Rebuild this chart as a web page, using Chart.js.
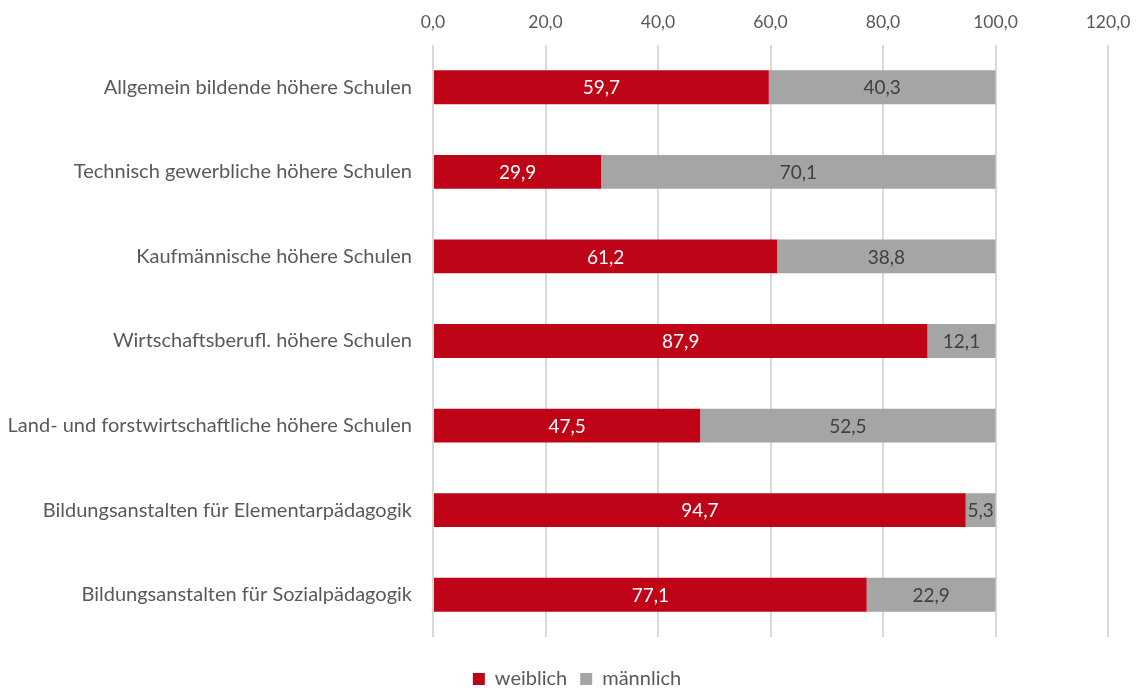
<!DOCTYPE html>
<html>
<head>
<meta charset="utf-8">
<script src="https://cdn.jsdelivr.net/npm/chart.js@4/dist/chart.umd.min.js"></script>
<style>
  html, body { margin: 0; padding: 0; background: #fff; overflow: hidden; }
  #wrap { width: 1137px; height: 688px; }
</style>
</head>
<body>
<div id="wrap"><canvas id="chart"></canvas></div>
<script>
// Schultypen (Kategorien)
const schultypen = [
  'Allgemein bildende höhere Schulen',
  'Technisch gewerbliche höhere Schulen',
  'Kaufmännische höhere Schulen',
  'Wirtschaftsberufl. höhere Schulen',
  'Land- und forstwirtschaftliche höhere Schulen',
  'Bildungsanstalten für Elementarpädagogik',
  'Bildungsanstalten für Sozialpädagogik'
];
// Anteile in %
const weiblich = [59.7, 29.9, 61.2, 87.9, 47.5, 94.7, 77.1];
const maennlich = [40.3, 70.1, 38.8, 12.1, 52.5, 5.3, 22.9];

const ROT = '#C00418';
const GRAU = '#A5A5A5';
const TEXT = '#595959';
const SCHRIFT = 'Lato, "Liberation Sans", sans-serif';

const zahl = v => v.toFixed(1).replace('.', ',');

// eigene Beschriftung der Balkensegmente (kein datalabels-Plugin verfügbar)
const balkenWerte = {
  id: 'balkenWerte',
  afterDatasetsDraw(chart) {
    const ctx = chart.ctx;
    ctx.save();
    ctx.font = '19px ' + SCHRIFT;
    ctx.textAlign = 'center';
    ctx.textBaseline = 'middle';
    chart.data.datasets.forEach((ds, i) => {
      const meta = chart.getDatasetMeta(i);
      ctx.fillStyle = i === 0 ? '#FFFFFF' : '#404040';
      meta.data.forEach((bar, j) => {
        const mitte = (bar.x + bar.base) / 2;
        ctx.fillText(zahl(ds.data[j]), mitte, bar.y + 1);
      });
    });
    ctx.restore();
  }
};

// Legende etwas nach rechts schieben wie im Original
const legendeVersatz = {
  id: 'legendeVersatz',
  afterLayout(chart) {
    chart.legend.left += 23;
    chart.legend.right += 23;
  }
};

new Chart(document.getElementById('chart'), {
  type: 'bar',
  data: {
    labels: schultypen,
    datasets: [
      { label: 'weiblich', data: weiblich, backgroundColor: ROT },
      { label: 'männlich', data: maennlich, backgroundColor: GRAU }
    ]
  },
  options: {
    indexAxis: 'y',
    responsive: true,
    maintainAspectRatio: false,
    animation: false,
    layout: { padding: { top: 0, right: 29, bottom: -11, left: 0 } },
    datasets: {
      bar: { categoryPercentage: 1, barPercentage: 0.4 }
    },
    scales: {
      x: {
        position: 'top',
        stacked: true,
        min: 0,
        max: 120,
        ticks: {
          stepSize: 20,
          color: TEXT,
          font: { family: SCHRIFT, size: 17.5 },
          padding: 12,
          callback: v => zahl(v)
        },
        grid: { color: '#D9D9D9', lineWidth: 2, drawTicks: false },
        border: { display: false },
        afterFit(scale) {
          scale.height = 45;
          scale.paddingLeft = 0;
          scale.paddingRight = 0;
        }
      },
      y: {
        stacked: true,
        ticks: {
          color: TEXT,
          font: { family: SCHRIFT, size: 20 },
          padding: 21
        },
        grid: { display: false, drawTicks: false },
        border: { display: false },
        afterFit(scale) { scale.width = 433; }
      }
    },
    plugins: {
      legend: {
        position: 'bottom',
        title: { display: true, text: '', font: { size: 0 }, padding: { top: 19, bottom: 0 } },
        labels: {
          color: TEXT,
          font: { family: SCHRIFT, size: 20 },
          boxWidth: 12,
          boxHeight: 12,
          padding: 13
        }
      },
      tooltip: { enabled: false }
    }
  },
  plugins: [balkenWerte, legendeVersatz]
});
</script>
</body>
</html>
